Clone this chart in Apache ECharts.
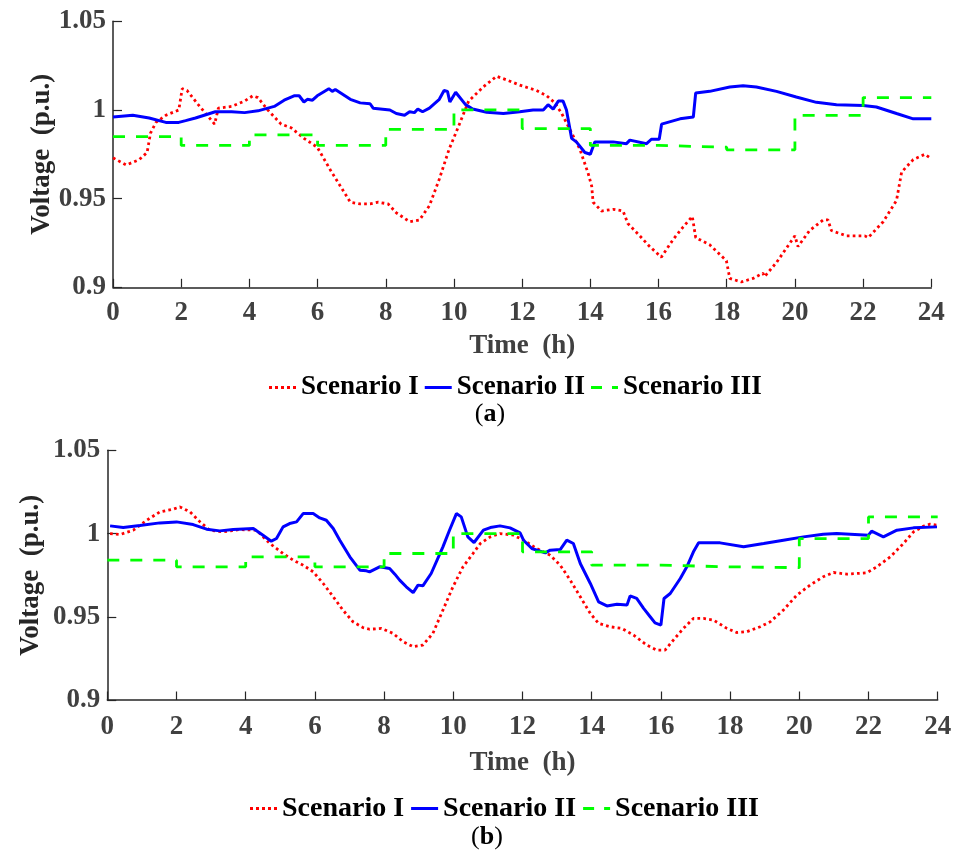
<!DOCTYPE html>
<html>
<head>
<meta charset="utf-8">
<script src="https://cdn.jsdelivr.net/npm/echarts@6/dist/echarts.min.js"></script>
<style>
  html, body { margin: 0; padding: 0; background: #fff; }
  #chart { width: 956px; height: 854px; }
</style>
</head>
<body>
<div id="chart"></div>
<script>
// Bus voltage profiles over one day, two cases (a) and (b), three scenarios each.
const seriesNames = ['Scenario I', 'Scenario II', 'Scenario III'];
const yTicks = { min: 0.9, max: 1.05, step: 0.05 };
const xTicks = { min: 0, max: 24, step: 2 };

// ---- case (a) ----
const aScenario1 = [
  [0, 0.973], [0.39, 0.969], [0.77, 0.972], [1.0, 0.976], [1.1, 0.987], [1.26, 0.993],
  [1.55, 0.997], [1.93, 1.000], [2.03, 1.012], [2.17, 1.011], [2.5, 1.003], [2.98, 0.992],
  [3.09, 1.001], [3.48, 1.002], [3.86, 1.005], [4.1, 1.008], [4.25, 1.007], [4.54, 1.000],
  [4.93, 0.992], [5.22, 0.990], [5.6, 0.984], [5.99, 0.979], [6.38, 0.966], [6.67, 0.957],
  [6.96, 0.948], [7.25, 0.947], [7.54, 0.947], [7.78, 0.948], [8.07, 0.947], [8.31, 0.942],
  [8.7, 0.937], [8.99, 0.938], [9.28, 0.946], [9.57, 0.961], [9.86, 0.978], [10.14, 0.991],
  [10.43, 1.005], [10.86, 1.013], [11.25, 1.019], [11.54, 1.017], [11.93, 1.014],
  [12.42, 1.011], [12.72, 1.008], [12.96, 1.004], [13.16, 0.998], [13.4, 0.989],
  [13.69, 0.978], [13.94, 0.964], [14.04, 0.957], [14.08, 0.948], [14.33, 0.943],
  [14.67, 0.944], [14.96, 0.943], [15.1, 0.936], [15.45, 0.929], [15.74, 0.923],
  [16.08, 0.917], [16.43, 0.927], [16.72, 0.934], [16.99, 0.940], [17.09, 0.928],
  [17.5, 0.924], [17.99, 0.915], [18.09, 0.905], [18.43, 0.903], [18.77, 0.905],
  [19.06, 0.908], [19.11, 0.906], [19.46, 0.914], [20.0, 0.929], [20.09, 0.923],
  [20.43, 0.932], [20.83, 0.938], [20.97, 0.938], [21.07, 0.932], [21.51, 0.929],
  [22.05, 0.929], [22.15, 0.928], [22.59, 0.937], [22.98, 0.949], [23.13, 0.965],
  [23.47, 0.972], [23.81, 0.975], [23.96, 0.973]
];
const aScenario2 = [
  [0, 0.996], [0.58, 0.997], [1.06, 0.9955], [1.55, 0.993], [1.93, 0.993], [2.13, 0.994],
  [2.42, 0.9955], [3.0, 0.999], [3.48, 0.999], [3.86, 0.9985], [4.25, 0.9995], [4.73, 1.002],
  [5.02, 1.0055], [5.31, 1.008], [5.46, 1.008], [5.6, 1.0045], [5.7, 1.006], [5.85, 1.0055],
  [5.99, 1.008], [6.33, 1.012], [6.43, 1.0105], [6.52, 1.0115], [6.96, 1.006], [7.25, 1.004],
  [7.54, 1.0035], [7.63, 1.001], [8.12, 1.000], [8.31, 0.998], [8.55, 0.997], [8.7, 0.999],
  [8.84, 0.9985], [8.94, 1.0005], [9.08, 0.999], [9.28, 1.001], [9.57, 1.006], [9.71, 1.011],
  [9.81, 1.0105], [9.88, 1.0045], [10.05, 1.010], [10.34, 1.003], [10.55, 1.0005],
  [10.96, 0.9987], [11.45, 0.998], [11.93, 0.999], [12.32, 1.000], [12.62, 1.000],
  [12.76, 1.003], [12.91, 1.0005], [13.06, 1.005], [13.2, 1.005], [13.3, 1.000],
  [13.45, 0.984], [13.59, 0.982], [13.84, 0.976], [14.0, 0.975], [14.13, 0.982],
  [14.67, 0.982], [15.06, 0.981], [15.16, 0.983], [15.65, 0.981], [15.79, 0.9835],
  [16.02, 0.9835], [16.09, 0.992], [16.63, 0.995], [17.02, 0.996], [17.09, 1.0096],
  [17.5, 1.0105], [18.09, 1.013], [18.48, 1.0137], [18.87, 1.013], [19.46, 1.0105],
  [20.04, 1.0073], [20.63, 1.0043], [21.22, 1.003], [22.0, 1.0025], [22.39, 1.0017],
  [22.98, 0.998], [23.47, 0.995], [24.0, 0.995]
];
// two-hour step settings
const aScenario3 = [
  [0, 0.985], [2, 0.980], [4, 0.986], [6, 0.980], [8, 0.989], [10, 1.000],
  [12, 0.9895], [14, 0.980], [16, 0.979], [18, 0.9775], [20, 0.997], [22, 1.007], [24, 1.007]
];

// ---- case (b) ----
const bScenario1 = [
  [0.08, 1.000], [0.37, 0.9994], [0.75, 1.002], [1.14, 1.008], [1.52, 1.013], [1.9, 1.0146],
  [2.1, 1.016], [2.39, 1.013], [2.68, 1.007], [2.96, 1.002], [3.35, 1.001], [3.83, 1.0024],
  [4.31, 1.002], [4.7, 0.994], [5.08, 0.988], [5.37, 0.984], [5.66, 0.981], [5.95, 0.977],
  [6.24, 0.970], [6.53, 0.962], [6.81, 0.954], [7.1, 0.947], [7.39, 0.9435], [7.58, 0.9425],
  [7.92, 0.943], [8.26, 0.940], [8.55, 0.935], [8.84, 0.932], [9.12, 0.933], [9.41, 0.940],
  [9.7, 0.954], [9.99, 0.968], [10.28, 0.980], [10.57, 0.988], [10.78, 0.994], [11.07, 0.998],
  [11.35, 1.000], [11.74, 0.999], [12.03, 0.996], [12.41, 0.991], [12.8, 0.987],
  [13.09, 0.981], [13.38, 0.972], [13.67, 0.962], [13.96, 0.952], [14.2, 0.946],
  [14.53, 0.944], [14.87, 0.943], [15.21, 0.939], [15.59, 0.933], [15.88, 0.930],
  [16.12, 0.930], [16.36, 0.936], [16.65, 0.943], [16.94, 0.949], [17.23, 0.949],
  [17.52, 0.948], [17.91, 0.943], [18.19, 0.9405], [18.48, 0.941], [18.87, 0.944],
  [19.16, 0.947], [19.54, 0.954], [19.93, 0.963], [20.31, 0.969], [20.69, 0.974],
  [20.99, 0.9766], [21.37, 0.9756], [21.95, 0.9764], [22.24, 0.980], [22.63, 0.986],
  [23.01, 0.994], [23.3, 1.001], [23.59, 1.0044], [23.78, 1.0056], [23.98, 1.005]
];
const bScenario2 = [
  [0.08, 1.0046], [0.46, 1.0036], [0.94, 1.0048], [1.52, 1.0064], [2.0, 1.007], [2.48, 1.0054],
  [2.87, 1.0026], [3.25, 1.0016], [3.64, 1.0024], [4.22, 1.003], [4.5, 0.999], [4.74, 0.9954],
  [4.89, 0.997], [5.08, 1.004], [5.27, 1.006], [5.47, 1.007], [5.66, 1.012], [5.95, 1.012],
  [6.14, 1.0094], [6.33, 1.008], [6.53, 1.003], [6.72, 0.996], [7.01, 0.986], [7.3, 0.978],
  [7.49, 0.9776], [7.58, 0.977], [7.87, 0.980], [8.16, 0.979], [8.31, 0.9756], [8.45, 0.972],
  [8.64, 0.968], [8.84, 0.9645], [8.98, 0.969], [9.12, 0.9686], [9.36, 0.976], [9.7, 0.992],
  [9.89, 1.002], [10.09, 1.012], [10.23, 1.010], [10.42, 0.998], [10.6, 0.9946],
  [10.87, 1.002], [11.07, 1.0036], [11.35, 1.0046], [11.64, 1.0034], [11.93, 1.0004],
  [12.03, 0.996], [12.27, 0.991], [12.66, 0.9884], [12.8, 0.990], [13.09, 0.9904],
  [13.28, 0.996], [13.47, 0.994], [13.67, 0.982], [13.96, 0.970], [14.2, 0.959],
  [14.44, 0.9565], [14.73, 0.9575], [15.02, 0.957], [15.11, 0.9625], [15.3, 0.961],
  [15.5, 0.955], [15.69, 0.950], [15.83, 0.9463], [16.0, 0.945], [16.09, 0.961],
  [16.27, 0.964], [16.56, 0.973], [16.75, 0.980], [16.94, 0.989], [17.09, 0.9944],
  [17.71, 0.9944], [18.39, 0.992], [18.97, 0.994], [19.54, 0.996], [20.12, 0.998],
  [20.69, 0.9996], [21.08, 1.000], [22.0, 0.999], [22.09, 1.0014], [22.43, 0.998],
  [22.82, 1.002], [23.3, 1.0034], [23.98, 1.004]
];
const bScenario3 = [
  [0, 0.984], [2, 0.980], [4, 0.986], [6, 0.980], [8, 0.988], [10, 1.000],
  [12, 0.989], [14, 0.981], [16, 0.980], [18, 0.9795], [20, 0.997], [22, 1.010], [24, 1.010]
];

const FONT = "'Liberation Serif', 'Times New Roman', serif";
const lineColors = ['#ff0000', '#0000ff', '#00ff00'];
const lineTypes = [[2.7, 3.2], 'solid', [12, 11]];
// legend keys: dotted, solid and dashed strokes drawn as filled shapes
const legendIcons = [
  'path://M0 0H3V3H0Z M6 0H9V3H6Z M12 0H15V3H12Z M18 0H21V3H18Z M24 0H27V3H24Z',
  'path://M0 0H27V3H0Z',
  'path://M0 0H11V3H0Z M21 0H27V3H21Z'
];

function xAxisFor(gridIndex, labelMargin, nameGap) {
  return {
    gridIndex, type: 'value', min: xTicks.min, max: xTicks.max, interval: xTicks.step,
    name: 'Time  (h)', nameLocation: 'middle', nameGap, nameMoveOverlap: false,
    nameTextStyle: { fontFamily: FONT, fontWeight: 'bold', fontSize: 27, color: '#404040' },
    axisLine: { show: true, onZero: false, lineStyle: { color: '#262626', width: 1.5 } },
    axisTick: { show: true, inside: true, length: 8.5, lineStyle: { color: '#262626', width: 1.2 } },
    axisLabel: { interval: 0, margin: labelMargin, fontFamily: FONT, fontWeight: 'bold', fontSize: 27, color: '#404040' },
    splitLine: { show: false }
  };
}
function yAxisFor(gridIndex, gap) {
  return {
    gridIndex, type: 'value', min: yTicks.min, max: yTicks.max, interval: yTicks.step,
    name: 'Voltage  (p.u.)', nameLocation: 'middle', nameGap: gap, nameRotate: 90,
    nameMoveOverlap: false,
    nameTextStyle: { fontFamily: FONT, fontWeight: 'bold', fontSize: 27, color: '#262626' },
    axisLine: { show: true, onZero: false, lineStyle: { color: '#262626', width: 1.5 } },
    axisTick: { show: true, inside: true, length: 9, lineStyle: { color: '#262626', width: 1.2 } },
    axisLabel: {
      margin: 7, fontFamily: FONT, fontWeight: 'bold', fontSize: 27, color: '#404040',
      formatter: v => String(Math.round(v * 100) / 100)
    },
    splitLine: { show: false }
  };
}
function lineSeries(name, data, idx, axisIndex) {
  return {
    name, type: 'line', data, xAxisIndex: axisIndex, yAxisIndex: axisIndex,
    showSymbol: false, symbol: 'none', smooth: false,
    step: idx === 2 ? 'end' : false,
    lineStyle: { color: lineColors[idx], width: idx === 1 ? 3 : 2.8, type: lineTypes[idx] },
    itemStyle: { color: lineColors[idx] },
    emphasis: { disabled: true }
  };
}
function legendFor(top, left, size, gap) {
  return {
    top, left, orient: 'horizontal', itemWidth: 27, itemHeight: 3, itemGap: gap,
    selectedMode: false,
    data: seriesNames.map((n, i) => ({ name: n, icon: legendIcons[i] })),
    textStyle: { fontFamily: FONT, fontWeight: 'bold', fontSize: size, color: '#000' }
  };
}
function caption(letter, x, y) {
  return {
    type: 'text', x, y,
    style: {
      text: '{p|(}{b|' + letter + '}{p|)}', align: 'center', verticalAlign: 'middle',
      rich: {
        p: { fontFamily: FONT, fontSize: 26, color: '#000' },
        b: { fontFamily: FONT, fontSize: 26, fontWeight: 'bold', color: '#000' }
      }
    }
  };
}

const chart = echarts.init(document.getElementById('chart'), null, { renderer: 'canvas' });
chart.setOption({
  animation: false,
  backgroundColor: '#ffffff',
  grid: [
    { left: 113, top: 21.3, width: 818.3, height: 266, containLabel: false },
    { left: 107.3, top: 450.3, width: 830.4, height: 249.7, containLabel: false }
  ],
  xAxis: [xAxisFor(0, 12, 45), xAxisFor(1, 14, 50)],
  yAxis: [yAxisFor(0, 57), yAxisFor(1, 63)],
  legend: [
    legendFor(369, 264, 27, 6),
    legendFor(789.5, 245, 28, 7)
  ],
  series: [
    lineSeries(seriesNames[0], aScenario1, 0, 0),
    lineSeries(seriesNames[1], aScenario2, 1, 0),
    lineSeries(seriesNames[2], aScenario3, 2, 0),
    lineSeries(seriesNames[0], bScenario1, 0, 1),
    lineSeries(seriesNames[1], bScenario2, 1, 1),
    lineSeries(seriesNames[2], bScenario3, 2, 1)
  ],
  graphic: [caption('a', 490, 414), caption('b', 487, 837)]
});
</script>
</body>
</html>
